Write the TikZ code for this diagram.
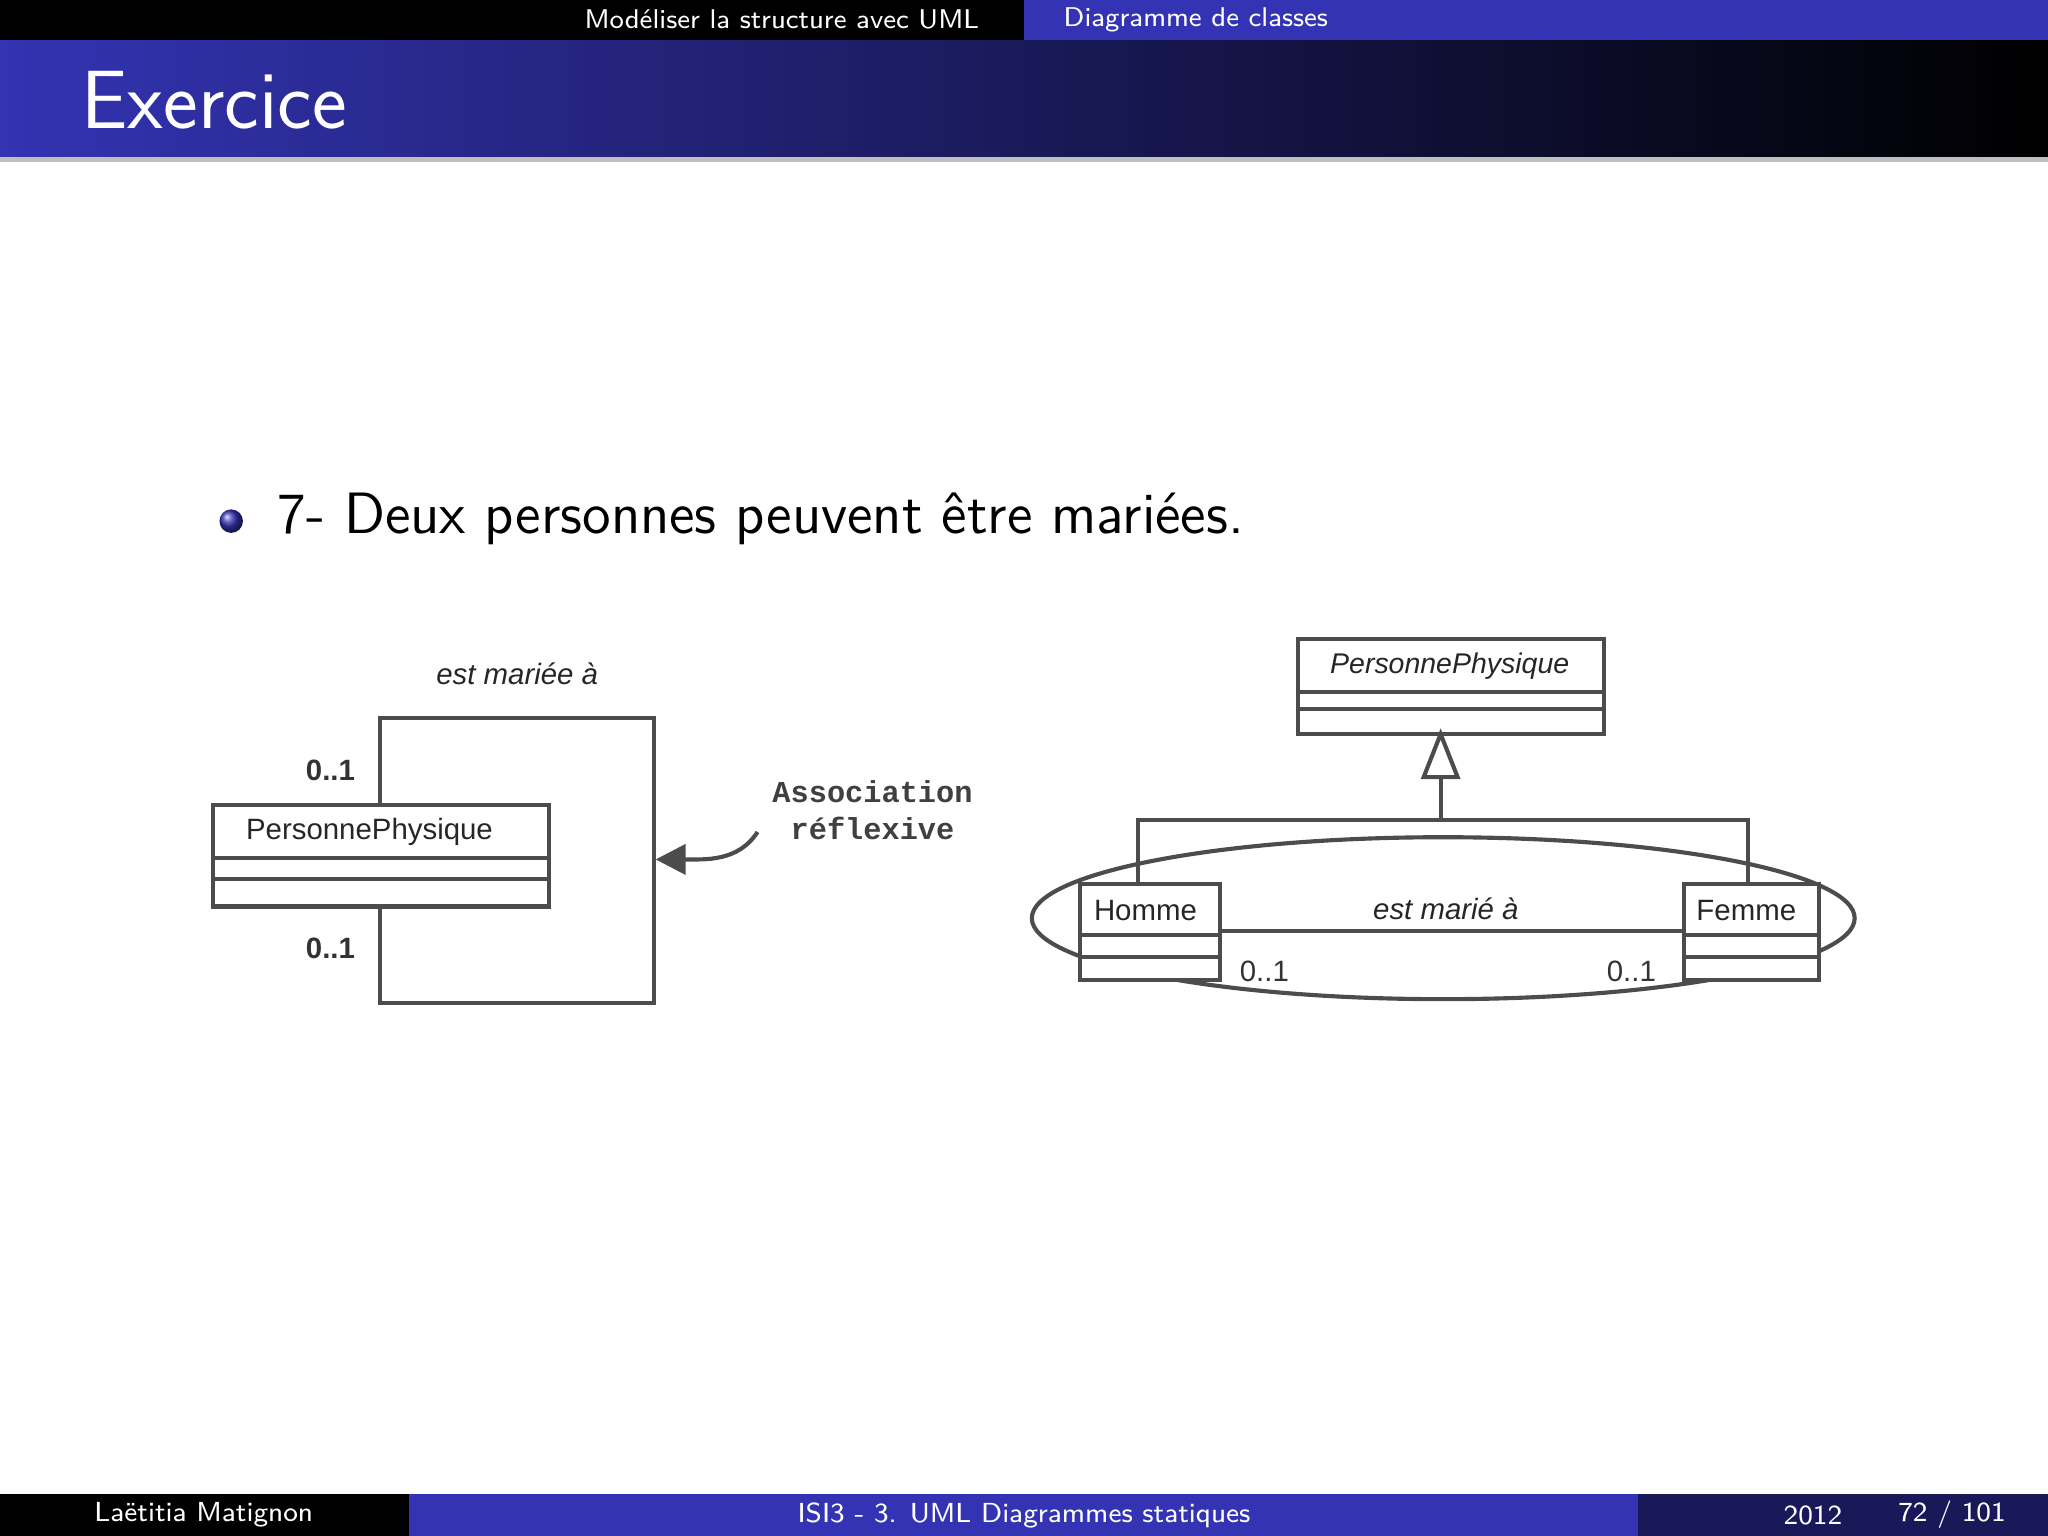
\documentclass[tikz,border=0pt]{standalone}
\usepackage{fontspec}
\newfontfamily\arial{Liberation Sans}
\newfontfamily\cour{Liberation Mono}
\usetikzlibrary{arrows.meta}
\definecolor{bblue}{RGB}{51,51,179}
\definecolor{dblue}{RGB}{25,25,90}
\tikzset{lin/.style={draw=black!70,line width=0.9pt},
 cls/.style={lin,fill=white},
 lbl/.style={font=\arial\fontsize{6.4}{8}\selectfont,text=black!85},
 mult/.style={font=\arial\bfseries\fontsize{6.4}{8}\selectfont,text=black!80}}
\begin{document}
\begin{tikzpicture}[x=0.01cm,y=-0.01cm]
\useasboundingbox (0,0) rectangle (1568,1176);
\fill[black] (0,0) rectangle (784,31);
\fill[bblue] (784,0) rectangle (1568,31);
\node[text=white,font=\sffamily\fontsize{5.9}{7}\selectfont,anchor=east] (h1) at (762,15) {Modéliser la structure avec UML};
\node[text=white,font=\sffamily\fontsize{5.9}{7}\selectfont,anchor=west] (h2) at (802,15) {Diagramme de classes};
\shade[left color=bblue,right color=black] (0,31) rectangle (1568,120);
\fill[black!25] (0,120) rectangle (1568,124);
\node[text=white,font=\sffamily\fontsize{18}{22}\selectfont,anchor=west] (t) at (50,77) {Exercice};
\shade[ball color=bblue] (177,399) circle (9);
\node[font=\sffamily\fontsize{12.7}{16}\selectfont,anchor=west] (b) at (200,397) {7- Deux personnes peuvent être mariées.};
% left diagram
\draw[lin] (291,616) -- (291,550) -- (501,550) -- (501,768) -- (291,768) -- (291,694);
\draw[cls] (163,616) rectangle (420,694);
\draw[lin] (163,657) -- (420,657) (163,673) -- (420,673);
\node[lbl,anchor=west] (pp1) at (176,637) {PersonnePhysique};
\node[lbl,font=\arial\itshape\fontsize{6.4}{8}\selectfont] (l1) at (396,516) {est mariée à};
\node[mult] (m1) at (253,590) {0..1};
\node[mult] (m2) at (253,726) {0..1};
\node[font=\cour\bfseries\fontsize{6.6}{8}\selectfont,text=black!75,align=center] (as) at (668,620) {Association\\réflexive};
\coordinate (ae) at (502,658);
\draw[lin,-{Triangle[length=6.5pt,width=6.5pt]}] (580,637) .. controls (565,660) and (540,658) .. (ae);
% right diagram
\draw[cls] (994,489) rectangle (1228,562);
\draw[lin] (994,530) -- (1228,530) (994,543) -- (1228,543);
\node[lbl,font=\arial\itshape\fontsize{6.2}{8}\selectfont,anchor=west] (pp2) at (1006,510) {PersonnePhysique};
\draw[lin,fill=white] (1103,562) -- (1116,595) -- (1090,595) -- cycle;
\draw[lin] (1103,595) -- (1103,628) (871,677) -- (871,628) -- (1338,628) -- (1338,677);
\draw[lin] (1105,703) ellipse (315 and 62);
\draw[cls] (827,677) rectangle (934,750);
\draw[lin] (827,716) -- (934,716) (827,733) -- (934,733);
\node[lbl] (ho) at (877,697) {Homme};
\draw[cls] (1289,677) rectangle (1393,750);
\draw[lin] (1289,716) -- (1393,716) (1289,733) -- (1393,733);
\node[lbl] (fe) at (1337,697) {Femme};
\draw[lin] (934,713) -- (1289,713);
\node[lbl,font=\arial\itshape\fontsize{6.4}{8}\selectfont] (l2) at (1107,696) {est marié à};
\node[mult,font=\arial\fontsize{6.4}{8}\selectfont] (m3) at (968,744) {0..1};
\node[mult,font=\arial\fontsize{6.4}{8}\selectfont] (m4) at (1249,744) {0..1};
% footer
\fill[black] (0,1144) rectangle (313,1176);
\fill[bblue] (313,1144) rectangle (1254,1176);
\fill[dblue] (1254,1144) rectangle (1568,1176);
\node[text=white,font=\sffamily\fontsize{6}{7}\selectfont] (f1) at (156,1160) {Laëtitia Matignon};
\node[text=white,font=\sffamily\fontsize{6}{7}\selectfont] (f2) at (784,1160) {ISI3 - 3. UML Diagrammes statiques};
\node[text=white,font=\sffamily\fontsize{6}{7}\selectfont] (f3) at (1388,1160) {2012};
\node[text=white,font=\sffamily\fontsize{6}{7}\selectfont,anchor=east] (f4) at (1548,1160) {72 / 101};
\end{tikzpicture}
\end{document}
